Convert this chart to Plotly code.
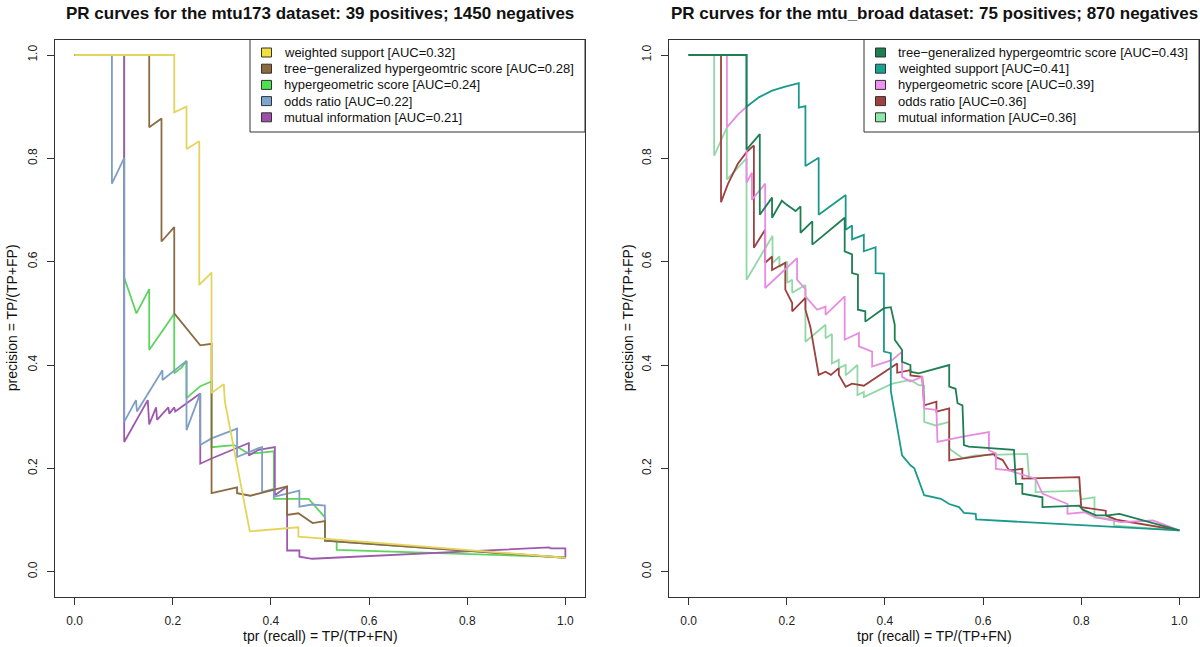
import plotly.graph_objects as go

W, H = 1200, 647

# ---------------- mtu173 dataset (left panel) ----------------
mtu173_title = "PR curves for the mtu173 dataset: 39 positives; 1450 negatives"
mtu173_names = ["weighted support", "tree−generalized hypergeomtric score",
                "hypergeometric score", "odds ratio", "mutual information"]
mtu173_auc = [0.32, 0.28, 0.24, 0.22, 0.21]
mtu173_colors = ["#E3D55B", "#8B6B43", "#5ED45E", "#7F9FC4", "#9D59AE"]
mtu173_swatch = ["#F2E03C", "#8C6A3E", "#4EE04E", "#7AA6CF", "#9B4FA8"]

mtu173_ws_x = [0, 0.203, 0.203, 0.228, 0.228, 0.254, 0.254, 0.279, 0.279, 0.304, 0.306, 0.357, 0.456, 0.456, 1.0]
mtu173_ws_y = [1.0, 1.0, 0.889, 0.9, 0.818, 0.833, 0.555, 0.579, 0.346, 0.363, 0.33, 0.078, 0.086, 0.068, 0.027]

mtu173_tg_x = [0, 0.152, 0.152, 0.177, 0.177, 0.203, 0.203, 0.256, 0.279, 0.279, 0.331, 0.331, 0.358,
               0.433, 0.433, 0.456, 0.485, 0.51, 0.51, 1.0]
mtu173_tg_y = [1.0, 1.0, 0.86, 0.877, 0.639, 0.667, 0.5, 0.438, 0.441, 0.152, 0.163, 0.152, 0.147,
               0.165, 0.11, 0.113, 0.094, 0.098, 0.06, 0.027]

mtu173_hg_x = [0, 0.101, 0.101, 0.126, 0.152, 0.152, 0.203, 0.203, 0.218, 0.228, 0.228, 0.256, 0.279,
               0.279, 0.325, 0.355, 0.406, 0.406, 0.477, 0.51, 0.51, 0.534, 0.534, 1.0]
mtu173_hg_y = [1.0, 1.0, 0.569, 0.5, 0.547, 0.429, 0.499, 0.384, 0.395, 0.408, 0.336, 0.359, 0.368,
               0.241, 0.245, 0.228, 0.233, 0.141, 0.141, 0.105, 0.06, 0.059, 0.042, 0.028]

mtu173_or_x = [0, 0.076, 0.076, 0.101, 0.101, 0.125, 0.127, 0.179, 0.179, 0.228, 0.228, 0.256, 0.256,
               0.279, 0.331, 0.331, 0.375, 0.382, 0.382, 0.406, 0.406, 0.458, 0.458, 0.484, 0.51, 0.51, 1.0]
mtu173_or_y = [1.0, 1.0, 0.751, 0.801, 0.29, 0.332, 0.31, 0.39, 0.371, 0.408, 0.274, 0.345, 0.245,
               0.258, 0.277, 0.222, 0.239, 0.241, 0.154, 0.16, 0.145, 0.157, 0.126, 0.13, 0.128, 0.06, 0.027]

mtu173_mi_x = [0, 0.101, 0.101, 0.149, 0.152, 0.166, 0.168, 0.191, 0.193, 0.203, 0.205, 0.256, 0.256,
               0.279, 0.355, 0.355, 0.375, 0.408, 0.408, 0.433, 0.433, 0.458, 0.458, 0.484, 0.967,
               0.97, 1.0, 1.0]
mtu173_mi_y = [1.0, 1.0, 0.251, 0.332, 0.285, 0.318, 0.294, 0.318, 0.306, 0.318, 0.31, 0.345, 0.209,
               0.219, 0.249, 0.225, 0.236, 0.241, 0.148, 0.165, 0.041, 0.041, 0.029, 0.025, 0.047,
               0.045, 0.045, 0.028]

# ---------------- mtu_broad dataset (right panel) ----------------
broad_title = "PR curves for the mtu_broad dataset: 75 positives; 870 negatives"
broad_names = ["tree−generalized hypergeomtric score", "weighted support",
               "hypergeometric score", "odds ratio", "mutual information"]
broad_auc = [0.43, 0.41, 0.39, 0.36, 0.36]
broad_colors = ["#1D7F52", "#1A9A8C", "#E98BE0", "#9C4040", "#92D8A6"]
broad_swatch = ["#1B7F4F", "#17A394", "#F090F0", "#A0413F", "#90E8A8"]

broad_tg_x = [0, 0.118, 0.118, 0.145, 0.145, 0.17, 0.17, 0.19, 0.2, 0.218, 0.228, 0.228, 0.252, 0.252,
              0.318, 0.318, 0.333, 0.333, 0.345, 0.345, 0.36, 0.36, 0.398, 0.412, 0.42, 0.42, 0.435,
              0.435, 0.452, 0.452, 0.469, 0.531, 0.531, 0.544, 0.548, 0.558, 0.561, 0.571, 0.663,
              0.667, 0.68, 0.68, 0.721, 0.721, 0.796, 0.803, 0.83, 0.854, 0.878, 1.0]
broad_tg_y = [1.0, 1.0, 0.817, 0.847, 0.691, 0.724, 0.685, 0.718, 0.71, 0.698, 0.707, 0.656, 0.678, 0.633,
              0.685, 0.62, 0.614, 0.578, 0.575, 0.507, 0.504, 0.484, 0.51, 0.512, 0.478, 0.449, 0.429,
              0.406, 0.4, 0.387, 0.384, 0.4, 0.358, 0.354, 0.326, 0.322, 0.245, 0.242, 0.236,
              0.17, 0.17, 0.151, 0.144, 0.125, 0.128, 0.12, 0.109, 0.109, 0.112, 0.08]

broad_ws_x = [0, 0.118, 0.118, 0.143, 0.17, 0.197, 0.2245, 0.2245, 0.238, 0.238, 0.265, 0.265, 0.32,
              0.32, 0.333, 0.333, 0.357, 0.357, 0.381, 0.381, 0.398, 0.398, 0.412, 0.412, 0.435, 0.452,
              0.46, 0.48, 0.514, 0.531, 0.551, 0.561, 0.585, 0.586, 1.0]
broad_ws_y = [1.0, 1.0, 0.9, 0.918, 0.931, 0.939, 0.9456, 0.898, 0.901, 0.785, 0.801, 0.691, 0.729,
              0.662, 0.67, 0.643, 0.652, 0.62, 0.628, 0.578, 0.577, 0.426, 0.423, 0.35, 0.225, 0.206,
              0.2, 0.148, 0.141, 0.131, 0.125, 0.114, 0.112, 0.101, 0.08]

broad_hg_x = [0, 0.078, 0.078, 0.09, 0.1, 0.118, 0.118, 0.129, 0.129, 0.156, 0.156, 0.221, 0.221, 0.238,
              0.238, 0.262, 0.279, 0.279, 0.318, 0.318, 0.347, 0.347, 0.374, 0.374, 0.415, 0.435,
              0.435, 0.452, 0.476, 0.48, 0.505, 0.507, 0.561, 0.612, 0.612, 0.626, 0.626, 0.653,
              0.707, 0.721, 0.772, 0.772, 0.806, 0.83, 0.881, 0.946, 1.0]
broad_hg_y = [1.0, 1.0, 0.86, 0.874, 0.884, 0.9, 0.753, 0.772, 0.72, 0.751, 0.549, 0.607, 0.565, 0.547,
              0.533, 0.507, 0.513, 0.497, 0.533, 0.449, 0.462, 0.436, 0.426, 0.397, 0.41, 0.426,
              0.377, 0.368, 0.377, 0.316, 0.313, 0.251, 0.262, 0.27, 0.235, 0.229, 0.199, 0.196,
              0.18, 0.151, 0.131, 0.112, 0.115, 0.105, 0.096, 0.099, 0.08]

broad_or_x = [0, 0.066, 0.066, 0.08, 0.1, 0.118, 0.133, 0.133, 0.156, 0.156, 0.17, 0.17, 0.197, 0.197,
              0.211, 0.211, 0.238, 0.238, 0.248, 0.265, 0.279, 0.29, 0.306, 0.306, 0.32, 0.333, 0.357,
              0.425, 0.425, 0.452, 0.452, 0.476, 0.48, 0.505, 0.505, 0.531, 0.531, 0.622, 0.626, 0.64,
              0.653, 0.68, 0.68, 0.796, 0.8, 0.85, 0.85, 0.874, 1.0]
broad_or_y = [1.0, 1.0, 0.715, 0.75, 0.789, 0.812, 0.825, 0.627, 0.662, 0.598, 0.61, 0.584, 0.598, 0.546,
              0.52, 0.504, 0.53, 0.507, 0.474, 0.381, 0.387, 0.381, 0.394, 0.381, 0.358, 0.364, 0.36,
              0.403, 0.385, 0.39, 0.38, 0.377, 0.322, 0.329, 0.31, 0.316, 0.2155, 0.228, 0.222, 0.216,
              0.196, 0.199, 0.18, 0.183, 0.125, 0.118, 0.109, 0.1, 0.08]

broad_mi_x = [0, 0.052, 0.052, 0.065, 0.078, 0.078, 0.118, 0.118, 0.171, 0.171, 0.185, 0.185, 0.201,
              0.201, 0.211, 0.211, 0.238, 0.238, 0.279, 0.279, 0.292, 0.292, 0.306, 0.306, 0.32, 0.32,
              0.344, 0.344, 0.357, 0.357, 0.415, 0.452, 0.469, 0.48, 0.48, 0.503, 0.531, 0.531, 0.558,
              0.585, 0.69, 0.694, 0.707, 0.707, 0.796, 0.8, 0.827, 0.827, 0.867, 0.867, 1.0]
broad_mi_y = [1.0, 1.0, 0.805, 0.833, 0.86, 0.759, 0.80, 0.565, 0.65, 0.597, 0.61, 0.59, 0.6,
              0.559, 0.565, 0.54, 0.555, 0.445, 0.478, 0.452, 0.46, 0.403, 0.41, 0.394, 0.40, 0.38,
              0.4, 0.342, 0.348, 0.338, 0.364, 0.371, 0.361, 0.36, 0.29, 0.283, 0.29, 0.238, 0.22,
              0.225, 0.228, 0.18, 0.18, 0.154, 0.157, 0.14, 0.144, 0.105, 0.102, 0.089, 0.08]

tick_vals = [0, 0.2, 0.4, 0.6, 0.8, 1.0]
tick_text = ["0.0", "0.2", "0.4", "0.6", "0.8", "1.0"]
x_label = "tpr (recall) = TP/(TP+FN)"
y_label = "precision = TP/(TP+FP)"

FONT = "Liberation Sans, Arial, sans-serif"

# pixel geometry of the two plot boxes
left_box = (55, 585)
right_box = (669, 1199)
box_top, box_bot = 39.5, 597


def px(x):
    return x / W


def py(y):
    return 1 - y / H


fig = go.Figure()

mtu173_series = [(mtu173_ws_x, mtu173_ws_y), (mtu173_tg_x, mtu173_tg_y), (mtu173_hg_x, mtu173_hg_y),
                 (mtu173_or_x, mtu173_or_y), (mtu173_mi_x, mtu173_mi_y)]
broad_series = [(broad_tg_x, broad_tg_y), (broad_ws_x, broad_ws_y), (broad_hg_x, broad_hg_y),
                (broad_or_x, broad_or_y), (broad_mi_x, broad_mi_y)]

# drawing order (bottom -> top), indices into the legend order
left_order = [2, 4, 3, 1, 0]
right_order = [4, 3, 2, 1, 0]

for i in left_order:
    xs, ys = mtu173_series[i]
    fig.add_trace(go.Scatter(x=xs, y=ys, mode="lines", name=mtu173_names[i],
                             line=dict(color=mtu173_colors[i], width=1.8),
                             xaxis="x", yaxis="y", showlegend=False))
for i in right_order:
    xs, ys = broad_series[i]
    fig.add_trace(go.Scatter(x=xs, y=ys, mode="lines", name=broad_names[i],
                             line=dict(color=broad_colors[i], width=1.8),
                             xaxis="x2", yaxis="y2", showlegend=False))

axis_common = dict(
    range=[-0.04, 1.04], tickvals=tick_vals, ticktext=tick_text, ticks="outside", ticklen=7,
    tickcolor="#333", tickwidth=1, showline=True, linecolor="#333", linewidth=1, mirror=True,
    showgrid=False, zeroline=False, tickfont=dict(family=FONT, size=12, color="#222"),
    ticklabelstandoff=6,
)
yaxis_common = dict(axis_common, range=[-0.049, 1.030], tickangle=-90, ticklabelstandoff=5)

ydom = [py(box_bot), py(box_top)]
fig.update_layout(
    width=W, height=H, margin=dict(l=0, r=0, t=0, b=0),
    paper_bgcolor="white", plot_bgcolor="white", showlegend=False,
    xaxis=dict(axis_common, domain=[px(left_box[0]), px(left_box[1])], anchor="y"),
    yaxis=dict(yaxis_common, domain=ydom, anchor="x"),
    xaxis2=dict(axis_common, domain=[px(right_box[0]), px(right_box[1])], anchor="y2"),
    yaxis2=dict(yaxis_common, domain=ydom, anchor="x2"),
)

annotations = []
shapes = []
for (x0, x1), title, ytitle_x, names, aucs, swatches, leg_left in [
    (left_box, mtu173_title, 12, mtu173_names, mtu173_auc, mtu173_swatch, 250),
    (right_box, broad_title, 628, broad_names, broad_auc, broad_swatch, 864),
]:
    cx = (x0 + x1) / 2
    annotations.append(dict(x=px(cx), y=py(13), xref="paper", yref="paper", text="<b>%s</b>" % title,
                            showarrow=False, font=dict(family=FONT, size=17, color="#111"),
                            xanchor="center", yanchor="middle"))
    annotations.append(dict(x=px(cx), y=py(636), xref="paper", yref="paper", text=x_label,
                            showarrow=False, font=dict(family=FONT, size=14, color="#111"),
                            xanchor="center", yanchor="middle"))
    annotations.append(dict(x=px(ytitle_x), y=py((box_top + box_bot) / 2), xref="paper", yref="paper",
                            text=y_label, textangle=-90, showarrow=False,
                            font=dict(family=FONT, size=14, color="#111"),
                            xanchor="center", yanchor="middle"))
    # legend box (R style, top-right inside the plot)
    shapes.append(dict(type="rect", xref="paper", yref="paper", x0=px(leg_left), x1=px(x1),
                       y0=py(132), y1=py(box_top), line=dict(color="#333", width=1), fillcolor="white"))
    for i, (nm, auc, sw) in enumerate(zip(names, aucs, swatches)):
        ry = 52.5 + i * 16.2
        sx = leg_left + 16.5
        shapes.append(dict(type="rect", xref="paper", yref="paper", x0=px(sx - 5), x1=px(sx + 5),
                           y0=py(ry + 4.5), y1=py(ry - 4.5), line=dict(color="#333", width=1),
                           fillcolor=sw))
        annotations.append(dict(x=px(leg_left + 32), y=py(ry), xref="paper", yref="paper",
                                text="%s [AUC=%.2f]" % (nm, auc), showarrow=False,
                                font=dict(family=FONT, size=13, color="#111"),
                                xanchor="left", yanchor="middle"))

fig.update_layout(annotations=annotations, shapes=shapes)

# the page is photographed at exactly the figure size, so drop the default body margin
fig.write_html("out.html", config={"displayModeBar": False},
               post_script="document.body.style.margin='0px';")
